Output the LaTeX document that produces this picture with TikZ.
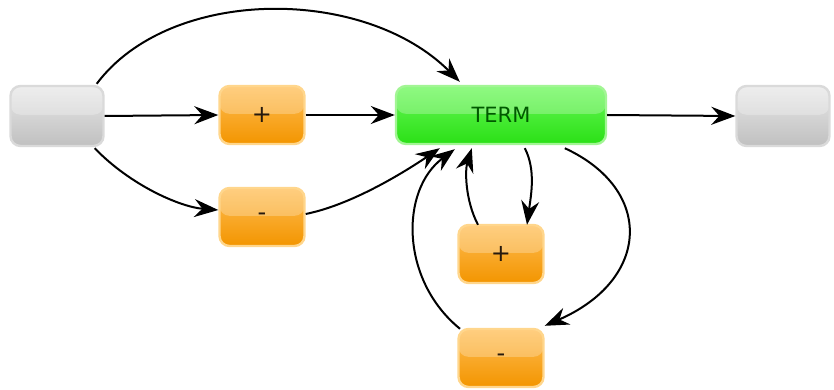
\documentclass[tikz,border=0pt]{standalone}
\usepackage{fontspec}
\setmainfont{DejaVu Sans}
\usetikzlibrary{arrows.meta,calc}
\definecolor{greyTop}{HTML}{E8E8E8}
\definecolor{greyBot}{HTML}{C0C0C0}
\definecolor{greyEdge}{HTML}{DADADA}
\definecolor{orTop}{HTML}{FFBE55}
\definecolor{orBot}{HTML}{F39500}
\definecolor{orEdge}{HTML}{FFD68C}
\definecolor{grTop}{HTML}{6AF858}
\definecolor{grBot}{HTML}{2AE016}
\definecolor{grEdge}{HTML}{A2F594}
\tikzset{
  glass/.style={rounded corners=10pt, line width=2.4pt, inner sep=0pt,
    path picture={\fill[white,opacity=0.25]
      (path picture bounding box.north west) rectangle
      ($(path picture bounding box.north east)!0.48!(path picture bounding box.south east)$);}},
  greybox/.style={glass, draw=greyEdge, top color=greyTop, bottom color=greyBot,
    minimum width=93pt, minimum height=60pt},
  signbox/.style={glass, draw=orEdge, top color=orTop, bottom color=orBot,
    minimum width=85pt, minimum height=58pt, font=\fontsize{24}{26}\selectfont, text=black!80!brown},
  termbox/.style={glass, draw=grEdge, top color=grTop, bottom color=grBot,
    minimum width=210pt, minimum height=58pt, font=\fontsize{21}{24}\selectfont, text=black!65!green},
  link/.style={line width=2pt, -{Stealth[length=24pt,width=18pt,inset=8pt]}}
}
\begin{document}
\begin{tikzpicture}[x=1pt,y=-1pt]
\useasboundingbox (0,0) rectangle (834,390);
\node[greybox] (src) at (57,116) {};
\node[signbox] (p1) at (262,115) {+};
\node[signbox] (m1) at (262,217) {-};
\node[termbox] (term) at (501,115) {TERM};
\node[greybox] (dst) at (783,116) {};
\node[signbox] (p2) at (501,254) {+};
\node[signbox] (m2) at (501,358) {-};

% incoming paths
\draw[link] ([xshift=-8pt,yshift=1pt]src.north east) .. controls (170,-14) and (364,-14) .. ([xshift=65pt,yshift=3pt]term.north west);
\draw[link] (src.east) -- (p1.west);
\draw[link] ([xshift=-10pt,yshift=-1pt]src.south east) .. controls (130,185) and (180,207) .. ([yshift=7pt]m1.west);
\draw[link] (p1.east) -- (term.west);
\draw[link] ([yshift=3pt]m1.east) .. controls (350,205) and (400,175) .. ([xshift=45pt,yshift=-3pt]term.south west);

% outgoing
\draw[link] (term.east) -- (dst.west);

% loops below the term
\draw[link] ([xshift=130pt,yshift=-3pt]term.south west) .. controls (536,170) and (531,195) .. ([xshift=26pt,yshift=-1pt]p2.north);
\draw[link] ([xshift=-23pt,yshift=-1pt]p2.north) .. controls (465,200) and (465,170) .. ([xshift=77pt,yshift=-3pt]term.south west);
\draw[link] ([xshift=-41pt,yshift=-1pt]m2.north) .. controls (400,280) and (400,190) .. ([xshift=60pt,yshift=-4pt]term.south west);
\draw[link] ([xshift=170pt,yshift=-3pt]term.south west) .. controls (655,190) and (650,280) .. ([yshift=2pt]m2.north east);
\end{tikzpicture}
\end{document}
